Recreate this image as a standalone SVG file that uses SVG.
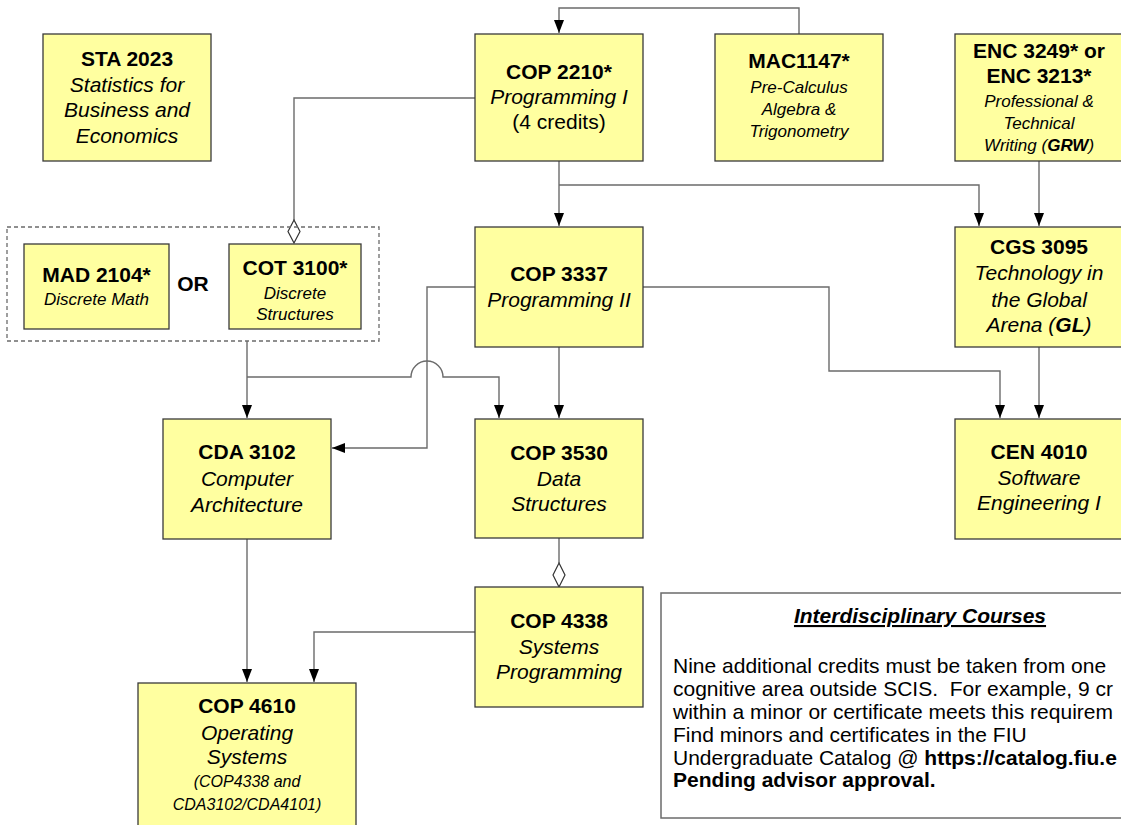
<svg xmlns="http://www.w3.org/2000/svg" width="1121" height="825" viewBox="0 0 1121 825">
<defs>
<style>
.n{fill:#ffffa0;stroke:#3a3a3a;stroke-width:1.3}
.c{fill:none;stroke:#6b6b6b;stroke-width:1.4}
.t{font-family:"Liberation Sans",Arial,sans-serif;fill:#000;text-anchor:middle}
.b{font-weight:bold;font-size:21px}
.i{font-style:italic;font-size:21px}
.s{font-style:italic;font-size:17px}
.xs{font-style:italic;font-size:16px}
.body{font-family:"Liberation Sans",Arial,sans-serif;font-size:21px;fill:#000;white-space:pre}
</style>
<marker id="ar" markerUnits="userSpaceOnUse" markerWidth="14" markerHeight="11" refX="13" refY="5" orient="auto">
<path d="M0,0 L13,5 L0,10 z" fill="#000"/>
</marker>
</defs>
<rect width="1121" height="825" fill="#fff"/>

<g id="connectors">
<path class="c" d="M799,34 V8 H559 V33" marker-end="url(#ar)"/>
<path class="c" d="M559,161 V226" marker-end="url(#ar)"/>
<path class="c" d="M559,185 H979 V226" marker-end="url(#ar)"/>
<path class="c" d="M1039,161 V226" marker-end="url(#ar)"/>
<path class="c" d="M475,98 H294 V220"/>
<polygon points="294,220 300,231.5 294,243 288,231.5" fill="#fff" stroke="#333" stroke-width="1.2"/>
<path class="c" d="M247,341 V418" marker-end="url(#ar)"/>
<path class="c" d="M247,377 H411 A16,16 0 0 1 443,377 H499 V418" marker-end="url(#ar)"/>
<path class="c" d="M475,287 H427 V448 H332" marker-end="url(#ar)"/>
<path class="c" d="M559,347 V418" marker-end="url(#ar)"/>
<path class="c" d="M643,287 H829 V371 H1000 V418" marker-end="url(#ar)"/>
<path class="c" d="M1039,347 V418" marker-end="url(#ar)"/>
<path class="c" d="M559,538 V563"/>
<polygon points="559,563 565,575 559,587 553,575" fill="#fff" stroke="#333" stroke-width="1.2"/>
<path class="c" d="M475,632 H314 V682" marker-end="url(#ar)"/>
<path class="c" d="M247,539 V682" marker-end="url(#ar)"/>
</g>

<g id="sta2023">
<rect class="n" x="43" y="34" width="168" height="127"/>
<text class="t b" x="127" y="66">STA 2023</text>
<text class="t i" x="127" y="92">Statistics for</text>
<text class="t i" x="127" y="117">Business and</text>
<text class="t i" x="127" y="143">Economics</text>
</g>

<g id="cop2210">
<rect class="n" x="475" y="34" width="168" height="127"/>
<text class="t b" x="559" y="79">COP 2210*</text>
<text class="t i" x="559" y="104">Programming I</text>
<text class="t" x="559" y="129" font-size="21">(4 credits)</text>
</g>

<g id="mac1147">
<rect class="n" x="715" y="34" width="168" height="127"/>
<text class="t b" x="799" y="68">MAC1147*</text>
<text class="t s" x="799" y="93">Pre-Calculus</text>
<text class="t s" x="799" y="115">Algebra &amp;</text>
<text class="t s" x="799" y="137">Trigonometry</text>
</g>

<g id="enc">
<rect class="n" x="955" y="34" width="168" height="127"/>
<text class="t b" x="1039" y="58">ENC 3249* or</text>
<text class="t b" x="1039" y="83">ENC 3213*</text>
<text class="t s" x="1039" y="107">Professional &amp;</text>
<text class="t s" x="1039" y="129">Technical</text>
<text class="t s" x="1039" y="151">Writing (<tspan font-weight="bold">GRW</tspan>)</text>
</g>

<g id="discrete-choice">
<rect x="7" y="227" width="372" height="114" fill="none" stroke="#6b6b6b" stroke-width="1.3" stroke-dasharray="4,3"/>
<text class="t b" x="193" y="291">OR</text>
</g>

<g id="mad2104">
<rect class="n" x="24" y="244" width="145" height="85"/>
<text class="t b" x="96.5" y="282">MAD 2104*</text>
<text class="t s" x="96.5" y="305">Discrete Math</text>
</g>

<g id="cot3100">
<rect class="n" x="229" y="244" width="132" height="85"/>
<text class="t b" x="295" y="275">COT 3100*</text>
<text class="t s" x="295" y="299">Discrete</text>
<text class="t s" x="295" y="320">Structures</text>
</g>

<g id="cop3337">
<rect class="n" x="475" y="227" width="168" height="120"/>
<text class="t b" x="559" y="281">COP 3337</text>
<text class="t i" x="559" y="307">Programming II</text>
</g>

<g id="cgs3095">
<rect class="n" x="955" y="227" width="168" height="120"/>
<text class="t b" x="1039" y="254">CGS 3095</text>
<text class="t i" x="1039" y="280">Technology in</text>
<text class="t i" x="1039" y="307">the Global</text>
<text class="t i" x="1039" y="332">Arena (<tspan font-weight="bold">GL</tspan>)</text>
</g>

<g id="cda3102">
<rect class="n" x="163" y="419" width="168" height="120"/>
<text class="t b" x="247" y="459">CDA 3102</text>
<text class="t i" x="247" y="486">Computer</text>
<text class="t i" x="247" y="512">Architecture</text>
</g>

<g id="cop3530">
<rect class="n" x="475" y="419" width="168" height="119"/>
<text class="t b" x="559" y="460">COP 3530</text>
<text class="t i" x="559" y="486">Data</text>
<text class="t i" x="559" y="511">Structures</text>
</g>

<g id="cen4010">
<rect class="n" x="955" y="419" width="168" height="120"/>
<text class="t b" x="1039" y="459">CEN 4010</text>
<text class="t i" x="1039" y="485">Software</text>
<text class="t i" x="1039" y="510">Engineering I</text>
</g>

<g id="cop4338">
<rect class="n" x="475" y="587" width="168" height="120"/>
<text class="t b" x="559" y="628">COP 4338</text>
<text class="t i" x="559" y="654">Systems</text>
<text class="t i" x="559" y="679">Programming</text>
</g>

<g id="cop4610">
<rect class="n" x="138" y="683" width="218" height="150"/>
<text class="t b" x="247" y="713">COP 4610</text>
<text class="t i" x="247" y="740">Operating</text>
<text class="t i" x="247" y="764">Systems</text>
<text class="t xs" x="247" y="787">(COP4338 and</text>
<text class="t xs" x="247" y="810">CDA3102/CDA4101)</text>
</g>

<g id="interdisciplinary">
<rect x="661" y="593" width="470" height="225" fill="#fff" stroke="#6b6b6b" stroke-width="1.5"/>
<text class="t" x="920" y="623" font-size="21" font-weight="bold" font-style="italic" text-decoration="underline">Interdisciplinary Courses</text>
<text class="body" x="673" y="673">Nine additional credits must be taken from one</text>
<text class="body" x="673" y="696">cognitive area outside SCIS.  For example, 9 cr</text>
<text class="body" x="673" y="719">within a minor or certificate meets this requirem</text>
<text class="body" x="673" y="742">Find minors and certificates in the FIU</text>
<text class="body" x="673" y="765">Undergraduate Catalog @ <tspan font-weight="bold">https://catalog.fiu.e</tspan></text>
<text class="body" x="673" y="787" font-size="15" font-weight="bold">Pending advisor approval.</text>
</g>
</svg>
